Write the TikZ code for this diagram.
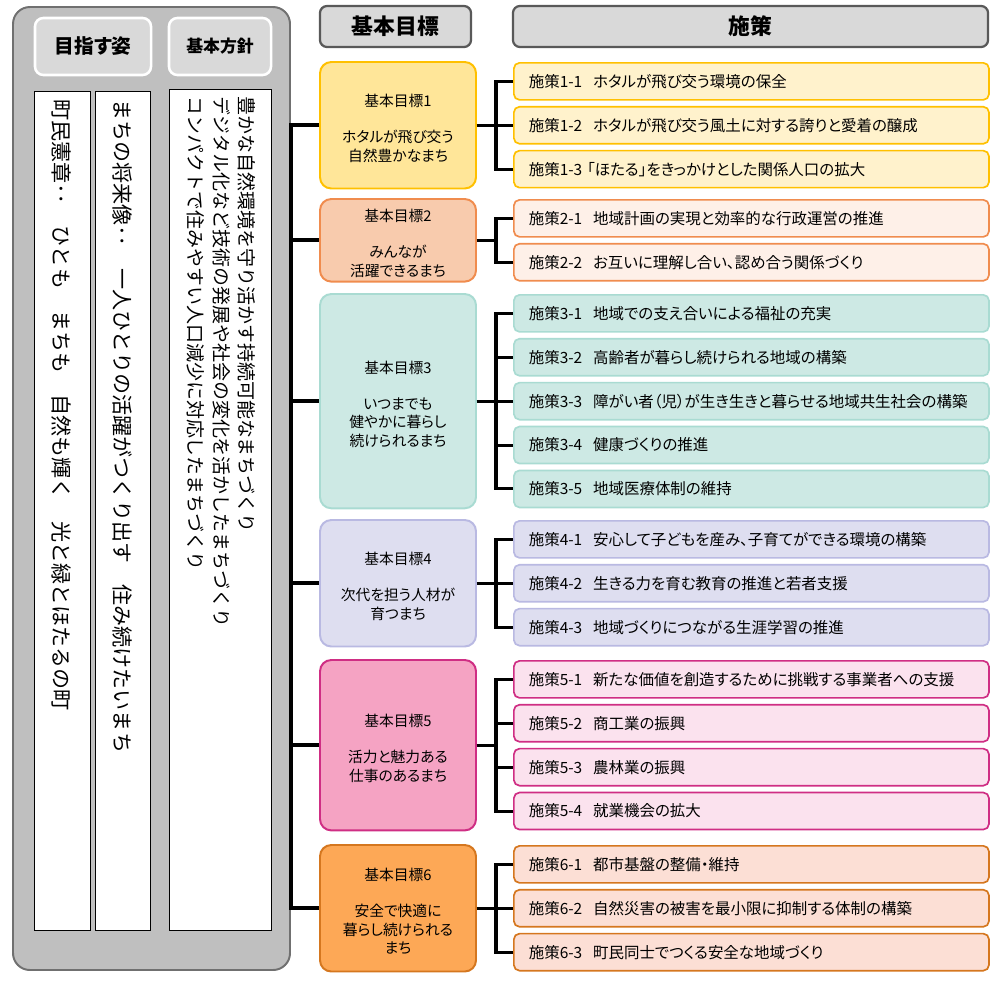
\documentclass[tikz,border=0pt]{standalone}
\usepackage{fontspec}
\setmainfont{Noto Sans CJK JP}[RawFeature={+palt}]
\newfontfamily\tatefont{Noto Sans CJK JP}[Vertical=RotatedGlyphs, RawFeature={+vert}]
\usetikzlibrary{positioning,fit}
\definecolor{PanelFill}{HTML}{BFBFBF}
\definecolor{PanelLine}{HTML}{707070}
\definecolor{HeadFill}{HTML}{D9D9D9}
\definecolor{HeadLine}{HTML}{595959}
\definecolor{GoldLine}{HTML}{FFC000}
\definecolor{GoldGoal}{HTML}{FFE699}
\definecolor{GoldSoft}{HTML}{FFF2CC}
\definecolor{PeachLine}{HTML}{F08C4E}
\definecolor{PeachGoal}{HTML}{F8CBAD}
\definecolor{PeachSoft}{HTML}{FEF0E8}
\definecolor{TealLine}{HTML}{A9DBD2}
\definecolor{TealSoft}{HTML}{CDE9E4}
\definecolor{LavLine}{HTML}{B9B9E2}
\definecolor{LavSoft}{HTML}{DEDEF0}
\definecolor{PinkLine}{HTML}{CF2E84}
\definecolor{PinkGoal}{HTML}{F5A3C3}
\definecolor{PinkSoft}{HTML}{FBE2EE}
\definecolor{OrangeLine}{HTML}{D5771F}
\definecolor{OrangeGoal}{HTML}{FDA856}
\definecolor{OrangeSoft}{HTML}{FCDFD5}

\begin{document}
\begin{tikzpicture}[
  x=0.025cm, y=-0.025cm,
  font=\fontsize{10.5}{13}\selectfont,
  node distance=0.13cm,
  panelhead/.style={draw=white, fill=HeadFill, rounded corners=6pt, line width=1.8pt,
    minimum height=1.425cm, inner sep=0pt},
  strip/.style={draw=black, fill=white, line width=0.7pt, inner sep=0pt},
  tate/.style={rotate=-90, inner sep=0pt, align=left},
  headbox/.style={draw=HeadLine, fill=HeadFill, rounded corners=5pt, line width=1.6pt,
    minimum height=1.025cm, inner sep=0pt, font=\fontsize{15.5}{18}\selectfont\bfseries},
  goalbox/.style={rounded corners=8pt, line width=1.4pt, inner sep=0pt},
  goaltext/.style={align=center, inner sep=0pt, yshift=-2pt},
  policy/.style={rounded corners=4pt, line width=1.2pt, anchor=north west,
    minimum height=0.925cm, text width=11.125cm, inner xsep=0.375cm, inner ysep=0pt, align=left,
    font=\fontsize{11}{13}\selectfont},
  pol1/.style={policy, draw=GoldLine, fill=GoldSoft},
  pol2/.style={policy, draw=PeachLine, fill=PeachSoft},
  pol3/.style={policy, draw=TealLine, fill=TealSoft},
  pol4/.style={policy, draw=LavLine, fill=LavSoft},
  pol5/.style={policy, draw=PinkLine, fill=PinkSoft},
  pol6/.style={policy, draw=OrangeLine, fill=OrangeSoft},
  link/.style={line width=2.2pt},
  trunk/.style={line width=2.8pt}
]
\useasboundingbox (0,0) rectangle (1001,981);

% left panel: vision and basic policy
\node[draw=PanelLine, fill=PanelFill, rounded corners=12pt, line width=1.4pt, inner sep=0pt,
  fit={(13,7) (290,970)}] (panel) {};
\node[panelhead, minimum width=2.9cm, font=\fontsize{14}{16}\selectfont\bfseries] (aim) at (93,46.5) {目指す姿};
\node[panelhead, minimum width=2.55cm, font=\fontsize{12}{14}\selectfont\bfseries] (policyhead) at (220,46.5) {基本方針};
\node[strip, minimum width=1.4cm, minimum height=20.95cm] (s1) at (62,511) {};
\node[strip, minimum width=1.375cm, minimum height=20.95cm] (s2) at (123,511) {};
\node[strip, minimum width=2.525cm, minimum height=21cm] (s3) at (220.5,510) {};

\node[tate, anchor=west, font=\tatefont\fontsize{15}{18}\selectfont] (charter) at (62,99)
  {町民憲章：　ひとも　まちも　自然も輝く　光と緑とほたるの町};
\node[tate, anchor=west, font=\tatefont\fontsize{15}{18}\selectfont] (future) at (123,99)
  {まちの将来像：　一人ひとりの活躍がつくり出す　住み続けたいまち};
\node[tate, anchor=north west, font=\tatefont\fontsize{13.5}{18}\selectfont] (basic) at (256,96)
  {豊かな自然環境を守り活かす持続可能なまちづくり\\
   デジタル化など技術の発展や社会の変化を活かしたまちづくり\\
   コンパクトで住みやすい人口減少に対応したまちづくり};

% column heads
\node[headbox, minimum width=3.775cm] (goalhead) at (395.5,26.5) {基本目標};
\node[headbox, minimum width=11.875cm] (measurehead) at (750.5,26.5) {施策};

% measures
\node[pol1] (p11) at (513,62) {施策1-1\hspace{0.7em}ホタルが飛び交う環境の保全};
\node[pol1, below=of p11] (p12) {施策1-2\hspace{0.7em}ホタルが飛び交う風土に対する誇りと愛着の醸成};
\node[pol1, below=of p12] (p13) {施策1-3\hspace{0.3em}「ほたる」をきっかけとした関係人口の拡大};

\node[pol2] (p21) at (513,199) {施策2-1\hspace{0.7em}地域計画の実現と効率的な行政運営の推進};
\node[pol2, below=of p21] (p22) {施策2-2\hspace{0.7em}お互いに理解し合い、認め合う関係づくり};

\node[pol3] (p31) at (513,294) {施策3-1\hspace{0.7em}地域での支え合いによる福祉の充実};
\node[pol3, below=of p31] (p32) {施策3-2\hspace{0.7em}高齢者が暮らし続けられる地域の構築};
\node[pol3, below=of p32] (p33) {施策3-3\hspace{0.7em}障がい者（児）が生き生きと暮らせる地域共生社会の構築};
\node[pol3, below=of p33] (p34) {施策3-4\hspace{0.7em}健康づくりの推進};
\node[pol3, below=of p34] (p35) {施策3-5\hspace{0.7em}地域医療体制の維持};

\node[pol4] (p41) at (513,520) {施策4-1\hspace{0.7em}安心して子どもを産み、子育てができる環境の構築};
\node[pol4, below=of p41] (p42) {施策4-2\hspace{0.7em}生きる力を育む教育の推進と若者支援};
\node[pol4, below=of p42] (p43) {施策4-3\hspace{0.7em}地域づくりにつながる生涯学習の推進};

\node[pol5] (p51) at (513,660) {施策5-1\hspace{0.7em}新たな価値を創造するために挑戦する事業者への支援};
\node[pol5, below=of p51] (p52) {施策5-2\hspace{0.7em}商工業の振興};
\node[pol5, below=of p52] (p53) {施策5-3\hspace{0.7em}農林業の振興};
\node[pol5, below=of p53] (p54) {施策5-4\hspace{0.7em}就業機会の拡大};

\node[pol6] (p61) at (513,845) {施策6-1\hspace{0.7em}都市基盤の整備・維持};
\node[pol6, below=of p61] (p62) {施策6-2\hspace{0.7em}自然災害の被害を最小限に抑制する体制の構築};
\node[pol6, below=of p62] (p63) {施策6-3\hspace{0.7em}町民同士でつくる安全な地域づくり};

% basic goals, as tall as their measures
\coordinate (gl) at (320,0);
\coordinate (gr) at (476,0);
\node[goalbox, draw=GoldLine, fill=GoldGoal, fit={(gl |- p11.north) (gr |- p13.south)}] (g1) {};
\node[goalbox, draw=PeachLine, fill=PeachGoal, fit={(gl |- p21.north) (gr |- p22.south)}] (g2) {};
\node[goalbox, draw=TealLine, fill=TealSoft, fit={(gl |- p31.north) (gr |- p35.south)}] (g3) {};
\node[goalbox, draw=LavLine, fill=LavSoft, fit={(gl |- p41.north) (gr |- p43.south)}] (g4) {};
\node[goalbox, draw=PinkLine, fill=PinkGoal, fit={(gl |- p51.north) (gr |- p54.south)}] (g5) {};
\node[goalbox, draw=OrangeLine, fill=OrangeGoal, fit={(gl |- p61.north) (gr |- p63.south)}] (g6) {};

\node[goaltext] (g1text) at (g1.center) {基本目標1\\[13pt]ホタルが飛び交う\\自然豊かなまち};
\node[goaltext] (g2text) at (g2.center) {基本目標2\\[13pt]みんなが\\活躍できるまち};
\node[goaltext] (g3text) at (g3.center) {基本目標3\\[13pt]いつまでも\\健やかに暮らし\\続けられるまち};
\node[goaltext] (g4text) at (g4.center) {基本目標4\\[13pt]次代を担う人材が\\育つまち};
\node[goaltext] (g5text) at (g5.center) {基本目標5\\[13pt]活力と魅力ある\\仕事のあるまち};
\node[goaltext] (g6text) at (g6.center) {基本目標6\\[13pt]安全で快適に\\暮らし続けられる\\まち};

% trunk from the panel to every goal
\draw[trunk] (g1.west) -| (panel.east |- g6.west) -- (g6.west);
\draw[trunk] (panel.east |- g2.west) -- (g2.west);
\draw[trunk] (panel.east |- g3.west) -- (g3.west);
\draw[trunk] (panel.east |- g4.west) -- (g4.west);
\draw[trunk] (panel.east |- g5.west) -- (g5.west);

% goal to measures
\draw[link] (g1.east) -- ++(19,0) |- (p11.west);
\draw[link] (g1.east) -- ++(19,0) |- (p12.west);
\draw[link] (g1.east) -- ++(19,0) |- (p13.west);
\draw[link] (g2.east) -- ++(19,0) |- (p21.west);
\draw[link] (g2.east) -- ++(19,0) |- (p22.west);
\draw[link] (g3.east) -- ++(19,0) |- (p31.west);
\draw[link] (g3.east) -- ++(19,0) |- (p32.west);
\draw[link] (g3.east) -- ++(19,0) |- (p33.west);
\draw[link] (g3.east) -- ++(19,0) |- (p34.west);
\draw[link] (g3.east) -- ++(19,0) |- (p35.west);
\draw[link] (g4.east) -- ++(19,0) |- (p41.west);
\draw[link] (g4.east) -- ++(19,0) |- (p42.west);
\draw[link] (g4.east) -- ++(19,0) |- (p43.west);
\draw[link] (g5.east) -- ++(19,0) |- (p51.west);
\draw[link] (g5.east) -- ++(19,0) |- (p52.west);
\draw[link] (g5.east) -- ++(19,0) |- (p53.west);
\draw[link] (g5.east) -- ++(19,0) |- (p54.west);
\draw[link] (g6.east) -- ++(19,0) |- (p61.west);
\draw[link] (g6.east) -- ++(19,0) |- (p62.west);
\draw[link] (g6.east) -- ++(19,0) |- (p63.west);

\end{tikzpicture}
\end{document}
